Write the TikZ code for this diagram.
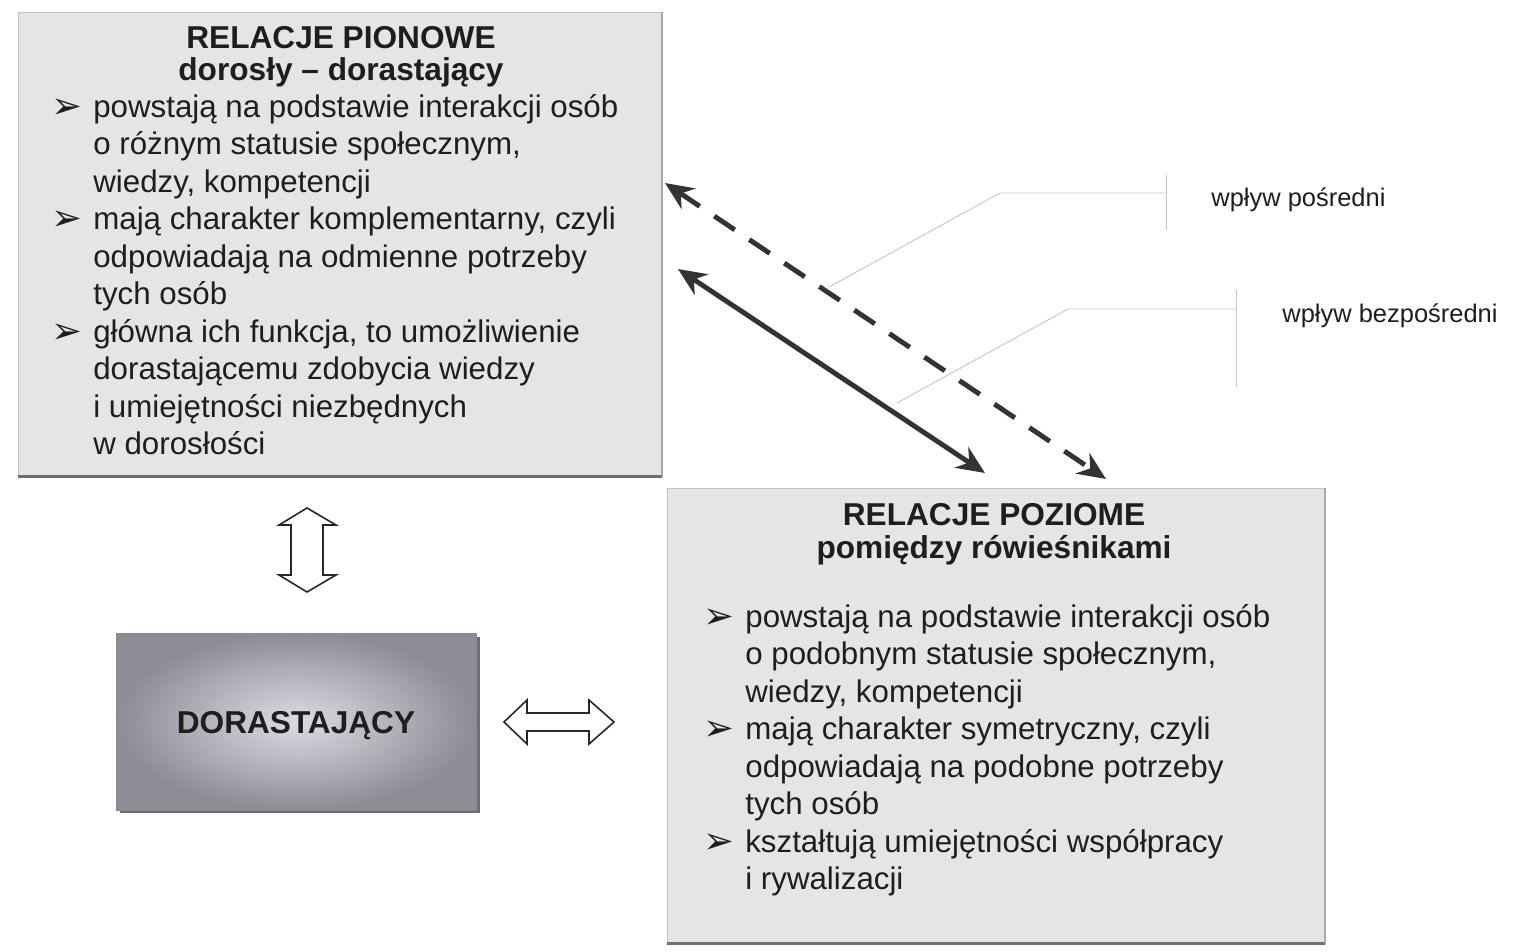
\documentclass[tikz,border=0pt]{standalone}
\usepackage{fontspec}
\setmainfont{Liberation Sans}
\newfontfamily\dejavu{DejaVu Sans}
\usetikzlibrary{arrows.meta}
\definecolor{txt}{HTML}{1E1E1E}
\definecolor{panelfill}{HTML}{E6E4E5}
\definecolor{shadowc}{HTML}{6E6E6E}
\definecolor{arrowc}{HTML}{333333}
\definecolor{leaderc}{HTML}{C4C4C4}
\definecolor{dorout}{HTML}{8C8C96}
\definecolor{dorin}{HTML}{DCDCE4}
\newcommand{\bulmark}{\llap{\makebox[24pt][l]{\raisebox{-0.5pt}{\dejavu\fontsize{21}{21}\selectfont ➢}}}}
\tikzset{
  panel/.style={rectangle, fill=panelfill, draw=panelfill!85!black, line width=0.4pt, inner sep=0pt},
  title/.style={font=\fontsize{18}{21.3}\selectfont\bfseries, text=txt, inner sep=0pt},
  body/.style={font=\fontsize{17.8}{21.35}\selectfont, text=txt, align=left, inner sep=0pt, anchor=north west},
  legend/.style={font=\fontsize{14.5}{17}\selectfont, text=txt, inner sep=0pt, anchor=west},
  leader/.style={draw=leaderc, line width=0.5pt},
  link/.style={draw=arrowc, line width=2.8pt, {Stealth[length=16pt,width=14pt]}-{Stealth[length=16pt,width=14pt]}},
  hollow/.style={draw=black!85, line width=0.9pt, fill=white, line join=miter}
}
\begin{document}
\begin{tikzpicture}[x=0.02cm,y=-0.02cm]
\useasboundingbox (0,0) rectangle (1514,951);
\fill[white] (0,0) rectangle (1514,951);

% box 1 (vertical relations)
\node[panel, minimum width=12.88cm, minimum height=9.28cm] (b1) at (340,244) {};
\draw[shadowc, line width=2pt] (b1.south west) -- (b1.south east);
\draw[shadowc!60, line width=1pt] (b1.north east) -- (b1.south east);
\node[title] (t1a) at (341,38) {RELACJE PIONOWE};
\node[title] (t1b) at (341,72) {dorosły – dorastający};
\node[body] (p1) at (93,94) {%
\bulmark powstają na podstawie interakcji osób\\
o różnym statusie społecznym,\\
wiedzy, kompetencji\\
\bulmark mają charakter komplementarny, czyli\\
odpowiadają na odmienne potrzeby\\
tych osób\\
\bulmark główna ich funkcja, to umożliwienie\\
dorastającemu zdobycia wiedzy\\
i umiejętności niezbędnych\\
w dorosłości};

% box 2 (horizontal relations)
\node[panel, minimum width=13.16cm, minimum height=9.1cm] (b2) at (996,715.5) {};
\draw[shadowc, line width=2pt] (b2.south west) -- (b2.south east);
\draw[shadowc!60, line width=1pt] (b2.north east) -- (b2.south east);
\node[title] (t2a) at (994,515) {RELACJE POZIOME};
\node[title] (t2b) at (994,550) {pomiędzy rówieśnikami};
\node[body] (p2) at (745,604) {%
\bulmark powstają na podstawie interakcji osób\\
o podobnym statusie społecznym,\\
wiedzy, kompetencji\\
\bulmark mają charakter symetryczny, czyli\\
odpowiadają na podobne potrzeby\\
tych osób\\
\bulmark kształtują umiejętności współpracy\\
i rywalizacji};

% adolescent box
\fill[shadowc] (120,637) rectangle (480,813);
\shade[inner color=dorin, outer color=dorout] (116,633) rectangle (477,810);
\node[inner sep=0pt, minimum width=7.22cm, minimum height=3.54cm] (b3) at (296.5,721.5) {};
\node[title] (t3) at (296,726) {DORASTAJĄCY};

% hollow double arrows
\draw[hollow] (307,508) -- (336,525) -- (323,525) -- (323,575) -- (336,575) -- (307,592)
  -- (279,575) -- (291,575) -- (291,525) -- (279,525) -- cycle;
\draw[hollow] (504,722) -- (527,700) -- (527,713) -- (589,713) -- (589,700) -- (614,722)
  -- (589,744) -- (589,731) -- (527,731) -- (527,744) -- cycle;

% influence arrows
\coordinate (dA) at (665,183);
\coordinate (dB) at (1106,479);
\coordinate (sA) at (678,269);
\coordinate (sB) at (985,473);
\draw[link, dash pattern=on 14pt off 10pt] (dA) -- (dB);
\draw[link] (sA) -- (sB);

% legend
\coordinate (l1a) at (829,287);
\coordinate (l1b) at (1000,193);
\coordinate (l1c) at (1166,193);
\coordinate (l1t) at (1166,175);
\coordinate (l1u) at (1166,230);
\draw[leader] (l1a) -- (l1b) -- (l1c);
\draw[leader] (l1t) -- (l1u);
\coordinate (l2a) at (897,403);
\coordinate (l2b) at (1068,309);
\coordinate (l2c) at (1236,309);
\coordinate (l2t) at (1236,290);
\coordinate (l2u) at (1236,387);
\draw[leader] (l2a) -- (l2b) -- (l2c);
\draw[leader] (l2t) -- (l2u);
\node[legend] (lg1) at (1211,200) {wpływ pośredni};
\node[legend] (lg2) at (1282,316) {wpływ bezpośredni};
\end{tikzpicture}
\end{document}
